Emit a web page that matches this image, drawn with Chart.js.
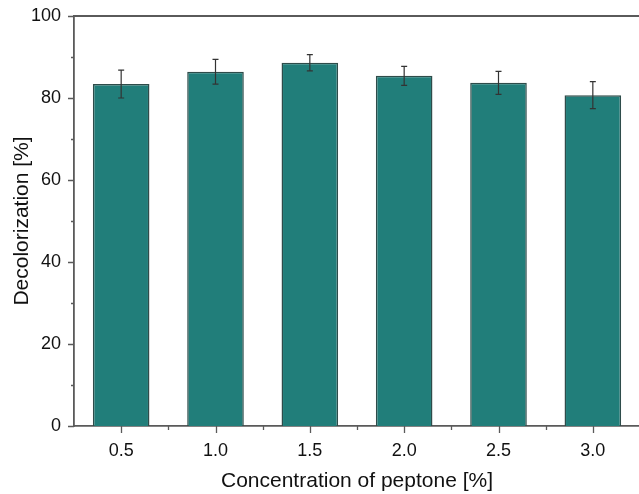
<!DOCTYPE html>
<html>
<head>
<meta charset="utf-8">
<script src="https://cdn.jsdelivr.net/npm/chart.js@4"></script>
<style>
  html, body { margin: 0; padding: 0; background: #fff; overflow: hidden; }
  canvas { display: block; }
</style>
</head>
<body>
<canvas id="myChart" width="660" height="494"></canvas>
<script>
var categories = ['0.5', '1.0', '1.5', '2.0', '2.5', '3.0'];
var decolorization = [83.4, 86.4, 88.6, 85.4, 83.7, 80.7];
var errors = [3.4, 3.0, 2.0, 2.3, 2.8, 3.3];
var yTicks = [0, 20, 40, 60, 80, 100];

var axisColor = '#5a5a5a';
var fontFamily = 'Liberation Sans, Arial, sans-serif';

// error bars, minor/major ticks and the top frame line
var extras = {
    id: 'extras',
    afterDatasetsDraw: function (chart) {
        var ctx = chart.ctx;
        var x = chart.scales.x;
        var y = chart.scales.y;
        var area = chart.chartArea;
        ctx.save();

        // error bars
        ctx.strokeStyle = '#333';
        ctx.lineWidth = 1.2;
        for (var i = 0; i < decolorization.length; i++) {
            var px = x.getPixelForValue(i);
            var top = y.getPixelForValue(decolorization[i] + errors[i]);
            var bot = y.getPixelForValue(decolorization[i] - errors[i]);
            ctx.beginPath();
            ctx.moveTo(px, top); ctx.lineTo(px, bot);
            ctx.moveTo(px - 3, top); ctx.lineTo(px + 3, top);
            ctx.moveTo(px - 3, bot); ctx.lineTo(px + 3, bot);
            ctx.stroke();
        }

        // top frame
        ctx.strokeStyle = axisColor;
        ctx.lineWidth = 1.8;
        ctx.beginPath();
        ctx.moveTo(area.left, area.top);
        ctx.lineTo(chart.width, area.top);
        ctx.stroke();

        // y ticks
        ctx.lineWidth = 1.3;
        ctx.beginPath();
        for (var v = 0; v <= 100; v += 10) {
            var py = Math.round(y.getPixelForValue(v)) + 0.5;
            var len = (v % 20 === 0) ? 6 : 3;
            ctx.moveTo(area.left, py);
            ctx.lineTo(area.left - len, py);
        }
        // x ticks
        for (var j = 0; j < categories.length; j++) {
            var cx = Math.round(x.getPixelForValue(j)) + 0.5;
            ctx.moveTo(cx, area.bottom);
            ctx.lineTo(cx, area.bottom + 7);
            var mx = Math.round(x.getPixelForValue(j + 0.5)) + 0.5;
            ctx.moveTo(mx, area.bottom);
            ctx.lineTo(mx, area.bottom + 4);
        }
        ctx.stroke();
        ctx.restore();
    }
};

var ctx = document.getElementById('myChart').getContext('2d');
var myChart = new Chart(ctx, {
    type: 'bar',
    data: {
        labels: categories,
        datasets: [{
            data: decolorization,
            backgroundColor: '#217e7a',
            borderColor: '#2e4c4a',
            borderWidth: 1.5,
            categoryPercentage: 1.0,
            barPercentage: 0.6
        }]
    },
    options: {
        responsive: false,
        animation: false,
        layout: { padding: { top: 16, right: 20, left: 0, bottom: 0 } },
        plugins: {
            legend: { display: false },
            tooltip: { enabled: false }
        },
        scales: {
            x: {
                offset: true,
                grid: { display: false },
                border: { display: true, color: axisColor, width: 1.8 },
                ticks: {
                    color: '#111',
                    padding: 6,
                    font: { family: fontFamily, size: 18 }
                },
                title: {
                    display: true,
                    text: 'Concentration of peptone [%]',
                    color: '#111',
                    padding: { top: 0, bottom: 0 },
                    font: { family: fontFamily, size: 21 }
                },
                afterFit: function (scale) {
                    scale.height = 68;
                    scale.paddingLeft = 0;
                    scale.paddingRight = 0;
                }
            },
            y: {
                min: 0,
                max: 100,
                grid: { display: false },
                border: { display: true, color: axisColor, width: 1.8 },
                afterBuildTicks: function (scale) {
                    scale.ticks = yTicks.map(function (v) { return { value: v }; });
                },
                ticks: {
                    color: '#111',
                    padding: 5,
                    font: { family: fontFamily, size: 18 }
                },
                title: {
                    display: true,
                    text: 'Decolorization [%]',
                    color: '#111',
                    padding: { top: 10, bottom: 0 },
                    font: { family: fontFamily, size: 21 }
                },
                afterFit: function (scale) {
                    scale.width = 74;
                    scale.paddingTop = 0;
                    scale.paddingBottom = 0;
                }
            }
        }
    },
    plugins: [extras]
});
</script>
</body>
</html>
